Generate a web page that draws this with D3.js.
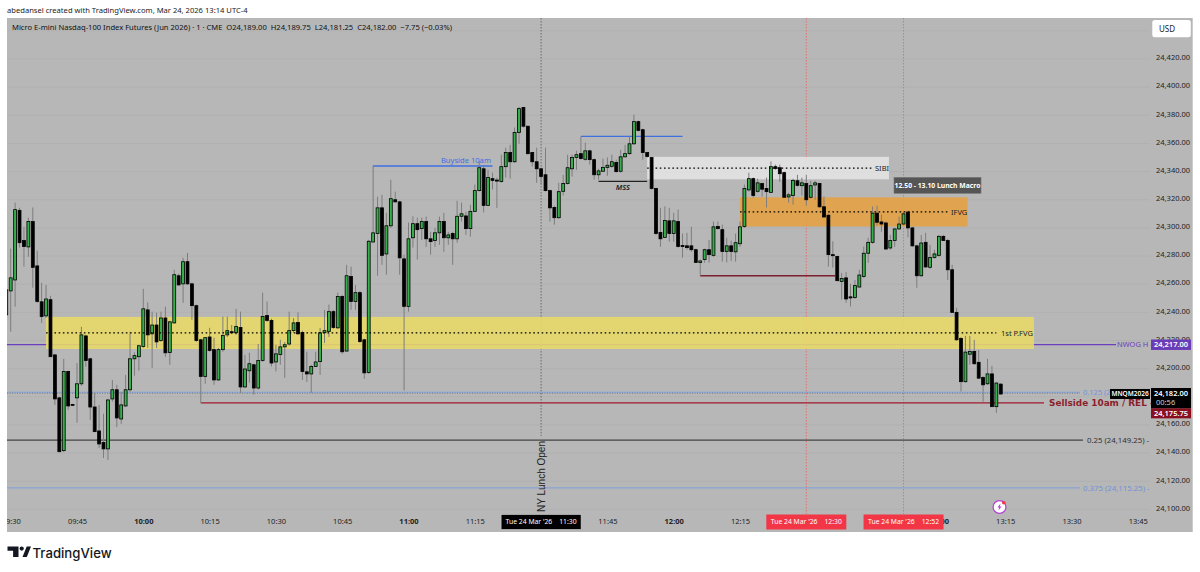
<!DOCTYPE html>
<html>
<head>
<meta charset="utf-8">
<script src="https://cdn.jsdelivr.net/npm/d3@7"></script>
<style>
  html, body { margin: 0; padding: 0; background: #fff; }
  svg { display: block; font-family: "Noto Sans", sans-serif; }
</style>
</head>
<body>
<div id="scene"></div>
<script>
// one bar per minute, first bar is 09:29
const firstMinute = 569;
const opens = [
  24238.25,24255.25,24263,24312.5,24291,24286.5,24304.5,24273,24247.5,24237.5,
  24249,24209.75,24179.25,24141.75,24198,24174.5,24179.25,24189.25,24223.25,24207,
  24172.75,24155.75,24147.5,24143,24178.5,24185,24164.25,24173.5,24185,24207,
  24208.5,24215.75,24241.75,24224.75,24231,24220,24236,24211.5,24232.5,24266,
  24260.25,24276,24260.25,24244.75,24220.5,24194.5,24222.5,24213.5,24192,24213.5,
  24224,24226.25,24225.5,24229.25,24187,24198.5,24202.75,24186.25,24205.75,24237.75,
  24234.25,24204.75,24210,24215.5,24217.5,24227,24232.75,24225.75,24197.75,24196.25,
  24201.5,24205,24225.5,24226.5,24240.5,24229,24251.25,24212.5,24265.5,24247.75,
  24254,24220.5,24197.25,24290,24296,24314.25,24281.5,24301.5,24320,24318.5,
  24278,24244.25,24293,24303,24299.5,24304.5,24292.25,24291,24296.5,24304.5,
  24293,24296,24292.25,24308.25,24308.5,24299.5,24311.75,24326.5,24342,24316,
  24335,24334,24333,24343.5,24353.5,24347,24367.75,24385.5,24372.25,24353.5,
  24347,24342,24337.75,24326.5,24314.5,24307.25,24326,24331.5,24342,24350,
  24352.75,24348.75,24354.75,24348.5,24337.75,24340.25,24343,24343.75,24346.5,24340.25,
  24350.5,24352.75,24359.75,24375.5,24369.75,24353.5,24350,24328,24296.75,24293.25,
  24305,24296,24304.5,24287.5,24287.25,24287.25,24284.5,24275.5,24277.5,24284.5,
  24280.5,24301,24298.75,24283.25,24287.25,24283,24288.75,24301,24327,24335,
  24326,24331.5,24328,24325.25,24343.5,24342.75,24339.25,24322,24323,24333.5,
  24330,24331.5,24321.75,24330.5,24331.5,24315,24309,24281,24279.75,24262,
  24264.5,24251,24250.5,24258,24265.5,24282,24289.75,24310.5,24304.25,24303.5,
  24285.75,24291,24299.25,24302.75,24311.25,24300,24287.25,24266,24289.75,24272,
  24279,24280.5,24294,24291,24270.25,24240,24221.5,24190.75,24210.25,24212.25,
  24204.5,24193.75,24189.25,24196.25,24173,24189
];
const highs = [
  24268.75,24285.25,24318,24314.25,24300.75,24307.25,24314.5,24283.75,24261,24259.5,
  24251.75,24210.5,24180,24207,24198.5,24175,24204,24229.75,24224,24207.75,
  24182.75,24174.25,24168,24178.5,24192,24188.5,24183.5,24195.5,24226.25,24211.5,
  24217,24256.75,24247,24240.5,24239.75,24240.5,24244,24234,24270.25,24267.5,
  24278.75,24282.25,24261,24245.5,24221.25,24222.5,24229,24222,24214.75,24237,
  24237,24231,24242.5,24240.5,24209.75,24211.25,24203.5,24217.5,24254,24247.75,
  24235.5,24217,24220.5,24219,24240.5,24236,24240,24227,24212,24202.75,
  24212,24229,24241.75,24245.5,24241.75,24254,24252.5,24273.75,24272.5,24259.5,
  24255.25,24221.25,24291.5,24344.25,24322.25,24323.5,24310.75,24334.25,24325.75,24319.25,
  24281,24303.75,24308.25,24307.25,24307.25,24308,24297.25,24300,24308,24310.75,
  24297.25,24297.25,24319.25,24318,24311.5,24316.5,24330.75,24347.25,24344.25,24341.25,
  24339.25,24335.75,24352,24357,24359,24371.25,24386,24386,24372.5,24354,
  24357,24342.75,24357,24327,24315.75,24332,24337.75,24352,24352,24354.75,
  24364.75,24360.5,24355.5,24349.25,24342,24349.25,24350,24352,24348.5,24355.5,
  24359,24364.75,24380.5,24376.25,24370.5,24354,24350.5,24328.5,24314.25,24315.25,
  24314.25,24310.75,24313,24296,24296.5,24300.75,24285.25,24277.5,24285.25,24291.5,
  24304.5,24304.5,24302.25,24293,24291,24296,24304.5,24330.75,24339.25,24335.75,
  24335,24332,24335.75,24347.25,24345,24345,24340,24325,24335,24337.75,
  24335.75,24337.75,24333.5,24333.5,24332,24322.25,24310,24290.5,24280.25,24268,
  24268.75,24260.25,24263,24270.25,24286.75,24293,24315.25,24315.75,24309.5,24304.5,
  24295,24300,24308,24311.5,24312.25,24300.75,24288,24295,24296.5,24288,
  24284.5,24295,24295,24292.25,24273.75,24243.25,24222.5,24223.25,24223.25,24220.5,
  24213.25,24194.75,24207,24202,24190.5,24189.75
];
const lows = [
  24226.25,24226.25,24244,24286,24272.5,24279.5,24257.5,24246.75,24232.5,24236,
  24208.5,24174.25,24140.75,24140.75,24170.75,24173.5,24161.5,24187.75,24201.25,24163.5,
  24155,24143.75,24136.5,24135,24176.5,24158.5,24160.75,24172.75,24183.5,24195,
  24198.5,24214.75,24214.75,24200.5,24214.75,24219,24208.5,24202.75,24232,24259,
  24246.75,24259.5,24234.75,24219,24175.75,24189.25,24212,24188.5,24191.25,24212,
  24222.5,24224.75,24224,24182.75,24186.25,24190,24181.5,24185,24204.75,24233.25,
  24201.5,24198,24202.75,24193.5,24216.25,24225.5,24224,24192,24190.5,24182.75,
  24201.25,24195.5,24218.25,24222.5,24228.25,24228.25,24210.5,24212,24241.75,24241.75,
  24218.25,24192.75,24196.25,24289.5,24266,24273.75,24266.75,24300,24318,24266.75,
  24184.5,24240.5,24286,24277.5,24291.5,24286.5,24281,24286.5,24288,24283,
  24288,24273.75,24289.5,24304.5,24295,24293.75,24311.5,24325.75,24311,24315.75,
  24327.25,24314.25,24332,24335.75,24335,24346.25,24359.75,24371.25,24352,24343.5,
  24332,24330.75,24325.75,24304.5,24302.25,24306.5,24323,24330.75,24336.5,24341.25,
  24348.5,24347.75,24345,24334.25,24334.25,24340,24337,24342.75,24339.25,24339.25,
  24350,24352,24359,24368.5,24348.5,24350,24327.25,24295,24286.5,24293,
  24290.25,24290.25,24286,24278.75,24284.5,24283,24275.25,24266.25,24275.25,24275.25,
  24279.5,24298.75,24276,24275.5,24276.5,24276,24286.5,24300,24325.75,24321.5,
  24325,24322.25,24314.5,24325,24341.25,24332.75,24321.5,24318,24316.5,24329.25,
  24323,24315.75,24320.75,24320,24314.25,24307.25,24272.5,24271.75,24262.5,24249,
  24246.75,24244.25,24249.5,24257.5,24264.5,24275.25,24288.75,24301.5,24297.25,24284.5,
  24284.5,24286.5,24298.75,24302.25,24293.25,24286.5,24257.5,24265.25,24271.75,24271,
  24278,24279.5,24291,24263,24239.75,24219.75,24183.75,24190,24202.75,24202.75,
  24192.75,24176.5,24188.5,24172.75,24168.5,24181.25
];
const closes = [
  24256,24264.5,24313,24289.5,24286.75,24304.5,24272,24247.75,24237,24249.5,
  24208.5,24178.5,24141,24198,24173.5,24174,24189.25,24224,24205.75,24172.75,
  24155.25,24146.5,24143,24177.75,24185,24165,24174.25,24185,24207,24209.25,
  24216.25,24242.5,24224,24231,24219,24236,24211.25,24233.25,24266.75,24259.5,
  24276,24260.25,24244.75,24220,24194.5,24222,24213,24192,24213.5,24223.5,
  24227,24225.5,24230,24187,24199.75,24203.5,24186.25,24205.75,24237,24234.25,
  24204,24210.5,24215.5,24217,24227,24232.5,24224.75,24198,24196.25,24201.5,
  24204.75,24225.5,24227,24240.5,24229.25,24251.25,24212,24266,24247.75,24254,
  24219.25,24197,24290.5,24296.5,24314.25,24280.5,24301.5,24320.75,24318.5,24278.75,
  24244.25,24292.25,24303,24298.75,24304.5,24292.25,24290.25,24296.5,24304.5,24293,
  24295,24292.25,24308.25,24310,24299.5,24311.75,24326.5,24342.75,24316,24335.75,
  24333.75,24333.25,24343.5,24353.5,24347,24367.75,24384.75,24372.25,24352.75,24347,
  24342,24336.5,24326.5,24314.25,24307.25,24325.75,24331.5,24342.75,24350,24352,
  24349.25,24354.75,24348.5,24337.75,24340.5,24343,24344.5,24347,24340,24350.5,
  24352.75,24359.75,24375.5,24369.25,24353.5,24350.75,24328,24296,24292.25,24305.25,
  24296,24305,24286.75,24286.75,24286,24284.5,24275.5,24276.5,24284.5,24281,
  24300.75,24299.5,24283.25,24287.25,24283.25,24289.5,24300.75,24328,24335,24323,
  24332,24327.5,24325.75,24343.5,24342.25,24338.5,24321.75,24323.5,24333.75,24330.25,
  24332,24320,24330,24332,24315,24307.75,24281,24280.25,24262.5,24264,
  24249.5,24250.25,24259,24266.5,24282,24289.75,24310.5,24304,24302.75,24285,
  24291,24299.25,24302.75,24310,24300,24287.25,24266,24289.25,24272.25,24279,
  24281.5,24294,24291,24270.25,24240,24220.5,24190.75,24211.75,24212.25,24203.5,
  24193.25,24188.5,24196.25,24173,24189.75,24182
];

// 24,180 sits behind the last price tag, 11:30 / 12:30 / 12:45 behind the time tags
const priceTicks = [24100,24120,24140,24160,24200,24220,24240,24260,24280,24300,24320,24340,24360,24380,24400,24420];
const gridPrices = [24100,24120,24140,24160,24180,24200,24220,24240,24260,24280,24300,24320,24340,24360,24380,24400,24420,24440];
const timeTicks = [570,585,600,615,630,645,660,675,705,720,735,780,795,810,825];

// levels drawn on the chart: price and start/end minute
const nwogPrice = 24217, sellsidePrice = 24175.75, lastPrice = 24182;
const fib125 = 24183.25, fib25 = 24149.25, fib375 = 24115.25;
const buyside = {price: 24344, from: 652, to: 679};
const upperHigh = {price: 24365, from: 699, to: 722};
const mss = {price: 24333, from: 703, to: 714};
const lowerHigh = {price: 24266, from: 726, to: 756.5};
const fvgBox = {top: 24236.75, bottom: 24214, from: 578, to: 801.5, dotTo: 793};
const sibiBox = {top: 24350.5, bottom: 24334.5, from: 714, to: 768.7, dotTo: 764.8};
const ifvgBox = {top: 24321.75, bottom: 24301, from: 735, to: 786.5, dotTo: 782};

const W = 1200, H = 572;
const svg = d3.select("#scene").append("svg").attr("width", W).attr("height", H);

const x = d3.scaleLinear().domain([570, 795]).range([10.7, 1005.2]);
const y = d3.scaleLinear().domain([24420, 24100]).range([59, 509.4]);
const bg = "#b7b7b7";
const fmtPrice = d3.format(",.2f");
const fmtTime = m => d3.format("02d")(Math.floor(m / 60)) + ":" + d3.format("02d")(m % 60);

svg.append("text").attr("x", 7).attr("y", 12.5).attr("font-size", 7.6).attr("fill", "#222")
  .text("abedansel created with TradingView.com, Mar 24, 2026 13:14 UTC-4");

svg.append("rect").attr("x", 7).attr("y", 18).attr("width", 1185.7).attr("height", 514).attr("fill", bg);

svg.append("defs").append("clipPath").attr("id", "pane").append("rect")
  .attr("x", 7).attr("y", 18).attr("width", 1143).attr("height", 496);
const pane = svg.append("g").attr("clip-path", "url(#pane)");

// grid
pane.selectAll(".grid").data(gridPrices).enter().append("line")
  .attr("x1", 7).attr("x2", 1150).attr("y1", d => y(d)).attr("y2", d => y(d))
  .attr("stroke", "#b1b1b1").attr("stroke-width", 1);

// session / time markers
pane.append("line").attr("x1", x(690)).attr("x2", x(690)).attr("y1", 18).attr("y2", 436)
  .attr("stroke", "#6b6b6b").attr("stroke-dasharray", "1.5,1.5");
[750, 772].forEach(m => {
  pane.append("line").attr("x1", x(m)).attr("x2", x(m)).attr("y1", 18).attr("y2", 514)
    .attr("stroke", "#e5706f").attr("stroke-dasharray", "1.5,1.5");
});

// level lines under the boxes
function level(price, x1, x2, color, width) {
  pane.append("line").attr("x1", x1).attr("x2", x2).attr("y1", y(price)).attr("y2", y(price))
    .attr("stroke", color).attr("stroke-width", width);
}
level(nwogPrice, 7, 1116, "#6a3fc0", 1.2);

function box(b, color) {
  pane.append("rect").attr("x", x(b.from)).attr("width", x(b.to) - x(b.from))
    .attr("y", y(b.top)).attr("height", y(b.bottom) - y(b.top))
    .attr("fill", color);
}
box(fvgBox, "rgba(233,219,104,0.88)");
box(sibiBox, "rgba(226,226,226,0.92)");
box(ifvgBox, "rgba(228,162,70,0.9)");

level(fib125, 7, 1080, "#7fa3e0", 1.2);
pane.append("line").attr("x1", 7).attr("x2", 1080).attr("y1", y(fib125) + 1).attr("y2", y(fib125) + 1)
  .attr("stroke", "#777").attr("stroke-dasharray", "1,1.5");
level(sellsidePrice, x(613), 1044, "#a01b2d", 1.2);
level(fib25, 7, 1083, "#444", 1.2);
level(fib375, 7, 1080, "#89a3d6", 1.3);
level(buyside.price, x(buyside.from), x(buyside.to), "#3f6fe0", 1.5);
level(upperHigh.price, x(upperHigh.from), x(upperHigh.to), "#3f6fe0", 1.2);
level(mss.price, x(mss.from), x(mss.to), "#222", 1.2);
level(lowerHigh.price, x(lowerHigh.from), x(lowerHigh.to), "#7c2030", 1.4);

// candles
const bars = opens.map((o, i) => ({m: firstMinute + i, o, h: highs[i], l: lows[i], c: closes[i]}));
pane.selectAll(".wick").data(bars).enter().append("line")
  .attr("x1", d => x(d.m)).attr("x2", d => x(d.m))
  .attr("y1", d => y(d.h)).attr("y2", d => y(d.l))
  .attr("stroke", "#7d7d7d").attr("stroke-width", 1);
pane.selectAll(".body").data(bars).enter().append("rect")
  .attr("x", d => x(d.m) - 1.45).attr("width", 2.9)
  .attr("y", d => y(Math.max(d.o, d.c)))
  .attr("height", d => Math.max(0.8, Math.abs(y(d.o) - y(d.c))))
  .attr("fill", d => d.c >= d.o ? "#35b04a" : "#000")
  .attr("stroke", "#000").attr("stroke-width", 0.8);

// dotted midlines of the boxes
[fvgBox, sibiBox, ifvgBox].forEach(b => {
  const mid = (b.top + b.bottom) / 2;
  pane.append("line").attr("x1", x(b.from)).attr("x2", x(b.dotTo)).attr("y1", y(mid)).attr("y2", y(mid))
    .attr("stroke", "#000").attr("stroke-width", 1.2).attr("stroke-dasharray", "1.6,2.6");
});

// labels inside the chart
function label(txt, lx, price, opts) {
  const o = Object.assign({size: 7.5, fill: "#222", anchor: "start", weight: 400}, opts);
  return svg.append("text").attr("x", lx).attr("y", y(price)).attr("dy", "0.35em")
    .attr("font-size", o.size).attr("fill", o.fill).attr("text-anchor", o.anchor)
    .attr("font-weight", o.weight).attr("font-style", o.style || "normal").text(txt);
}
label("Buyside 10am", x(673), buyside.price + 4, {fill: "#3f6fe0", anchor: "middle", size: 7.6});
label("MSS", x(708.5), mss.price - 4.5, {anchor: "middle", style: "italic", size: 7.5, weight: 600});
label("SIBI", 875, (sibiBox.top + sibiBox.bottom) / 2, {size: 7.5});
label("IFVG", 951, (ifvgBox.top + ifvgBox.bottom) / 2, {size: 7.5});
label("1st P.FVG", 1001, (fvgBox.top + fvgBox.bottom) / 2, {size: 7.5});

svg.append("text").attr("transform", `translate(${x(690) + 4},512) rotate(-90)`)
  .attr("font-size", 10).attr("fill", "#222").attr("font-family", "Liberation Sans").text("NY Lunch Open");

const macro = svg.append("g").attr("transform", `translate(894,${y(24330.25)})`);
macro.append("rect").attr("y", -8).attr("width", 87).attr("height", 16).attr("fill", "#555")
  .attr("stroke", "#777").attr("stroke-width", 0.6);
macro.append("text").attr("x", 43.5).attr("y", 0).attr("dy", "0.35em").attr("text-anchor", "middle")
  .attr("font-size", 6.8).attr("font-weight", 700).attr("fill", "#fff").text("12.50 - 13.10 Lunch Macro");

// legend row
svg.append("text").attr("x", 12).attr("y", 30).attr("font-size", 7.6).attr("fill", "#111")
  .attr("xml:space", "preserve")
  .text("Micro E-mini Nasdaq-100 Index Futures (Jun 2026) · 1 · CME  O24,189.00  H24,189.75  L24,181.25  C24,182.00  −7.75 (−0.03%)");

// right side labels for the levels
label("NWOG H -", 1117, nwogPrice, {fill: "#6a3fc0", size: 7.5});
label("0.125 (2", 1083, fib125, {fill: "#6f93d6", size: 7.5});
label("0.25 (24,149.25) -", 1087, fib25, {fill: "#333", size: 7.8});
label("0.375 (24,115.25) -", 1083, fib375, {fill: "#6f93d6", size: 7.8});
label("Sellside 10am / REL -", 1049, sellsidePrice, {fill: "#8c1f2c", size: 8.9, weight: 700})
  .attr("font-family", "DejaVu Sans");

// price axis
const yAxis = svg.append("g").attr("transform", "translate(1156,0)")
  .call(d3.axisRight(y).tickValues(priceTicks).tickSize(0).tickFormat(fmtPrice));
yAxis.select(".domain").remove();
yAxis.attr("font-family", "Noto Sans");
yAxis.selectAll("text").attr("x", 0).attr("dy", "0.1em").attr("font-size", 7.5).attr("fill", "#222");

// time axis
const xAxis = svg.append("g").attr("transform", "translate(0,514)")
  .call(d3.axisBottom(x).tickValues(timeTicks).tickSize(0).tickFormat(fmtTime));
xAxis.select(".domain").remove();
xAxis.attr("font-family", "Noto Sans");
xAxis.selectAll("text").attr("y", 5).attr("dy", "0.71em").attr("font-size", 7.5).attr("fill", "#222")
  .attr("font-weight", d => d % 60 === 0 ? 700 : 400);
// nothing left of the pane edge
svg.append("rect").attr("x", 0).attr("y", 514).attr("width", 7).attr("height", 18).attr("fill", "#fff");

// time tags
[[690, "#000", "11:30"], [750, "#f23645", "12:30"], [772, "#f23645", "12:52"]].forEach(t => {
  const g = svg.append("g").attr("transform", `translate(${x(t[0])},522)`);
  g.append("rect").attr("x", -40).attr("y", -7.5).attr("width", 80).attr("height", 15).attr("fill", t[1])
    .attr("stroke", t[1] === "#000" ? "#d5d5d5" : "none").attr("stroke-width", 0.6);
  g.append("text").attr("x", -35.5).attr("dy", "0.35em").attr("font-size", 6.8).attr("fill", "#fff")
    .text("Tue 24 Mar '26");
  g.append("text").attr("x", 35.5).attr("dy", "0.35em").attr("text-anchor", "end").attr("font-size", 6.8)
    .attr("fill", "#fff").text(t[2]);
});

// price tags
function tag(tx, price, w, h, color, txt, size) {
  const g = svg.append("g").attr("transform", `translate(${tx},${y(price)})`);
  g.append("rect").attr("y", -h / 2).attr("width", w).attr("height", h).attr("fill", color);
  g.append("text").attr("x", w / 2).attr("dy", "0.35em").attr("text-anchor", "middle")
    .attr("font-size", size || 7.5).attr("font-weight", 600).attr("fill", "#fff").text(txt);
}
tag(1151, nwogPrice, 40, 10.5, "#6a3db8", fmtPrice(nwogPrice));
tag(1110, lastPrice, 40, 10, "#000", "MNQM2026", 6.5);
svg.append("rect").attr("x", 1151).attr("y", 388).attr("width", 40).attr("height", 20.5).attr("fill", "#000");
svg.append("text").attr("x", 1171).attr("y", 396).attr("text-anchor", "middle").attr("font-size", 7.5)
  .attr("font-weight", 600).attr("fill", "#fff").text(fmtPrice(lastPrice));
svg.append("text").attr("x", 1156).attr("y", 405).attr("font-size", 7.5).attr("fill", "#ccc").text("00:56");
tag(1151, sellsidePrice - 7.5, 40, 10, "#8a0f1e", fmtPrice(sellsidePrice));

// USD button
svg.append("rect").attr("x", 1152.3).attr("y", 20).attr("width", 38.5).attr("height", 17.3).attr("rx", 2.5).attr("fill", "#fff");
svg.append("text").attr("x", 1159).attr("y", 32).attr("font-size", 8).attr("fill", "#222").text("USD");

// flash icon
const flash = svg.append("g").attr("transform", "translate(999.5,507)");
flash.append("circle").attr("r", 6.4).attr("fill", "#fff").attr("stroke", "#b43fd1").attr("stroke-width", 1.2);
flash.append("path").attr("d", "M1,-3.5 L-2,0.6 L-0.3,0.6 L-1,3.5 L2,-0.6 L0.3,-0.6 Z").attr("fill", "#b43fd1");
flash.append("circle").attr("cx", 4.3).attr("cy", -4.3).attr("r", 1.8).attr("fill", "#f23645");

// TradingView brand
const brand = svg.append("g").attr("transform", "translate(7.5,546.5)").attr("fill", "#131722");
brand.append("path").attr("d", "M0,0 H11 V10.5 H5.6 V4.2 H0 Z");
brand.append("circle").attr("cx", 14.2).attr("cy", 2.1).attr("r", 2.1);
brand.append("path").attr("d", "M15,10.5 L19.2,0 H23.5 L19.3,10.5 Z");
svg.append("text").attr("x", 32.5).attr("y", 558).attr("font-size", 13.2).attr("font-weight", 500)
  .attr("font-family", "Inter").attr("fill", "#131722").text("TradingView");
</script>
</body>
</html>
